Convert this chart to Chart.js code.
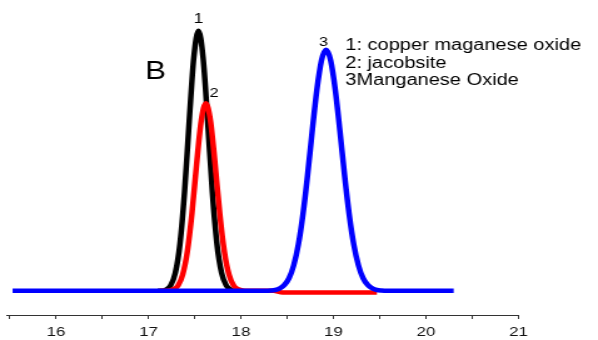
<!DOCTYPE html>
<html>
<head>
<meta charset="utf-8">
<script src="https://cdn.jsdelivr.net/npm/chart.js@4"></script>
<style>
  html, body { margin: 0; padding: 0; background: #fff; overflow: hidden; }
  #wrap { width: 478px; height: 340px; transform: scaleX(1.251); transform-origin: 0 0; }
</style>
</head>
<body>
<div id="wrap"><canvas id="xrdChart"></canvas></div>
<script>
// curve 1: copper maganese oxide (black)
const blackX = [17.1, 17.14, 17.19, 17.24, 17.29, 17.34, 17.39, 17.44, 17.49, 17.54, 17.59, 17.64, 17.69, 17.74, 17.79, 17.84, 17.89, 17.94, 18.0];
const blackY = [0, 0, 0.5, 2.0, 6.6, 17.3, 36.6, 62.5, 86.2, 96, 86.2, 62.5, 36.6, 17.3, 6.6, 2.0, 0.5, 0, 0];

// curve 2: jacobsite (red)
const redX = [17.12, 17.17, 17.22, 17.27, 17.32, 17.37, 17.42, 17.47, 17.52, 17.57, 17.62, 17.67, 17.72, 17.77, 17.82, 17.87, 17.92, 17.97, 18.02, 18.07, 18.35, 18.45, 19.47];
const redY = [0, 0, 0.1, 0.6, 2.0, 6.0, 14.5, 28.7, 46.8, 62.8, 69.3, 62.8, 46.8, 28.7, 14.5, 6.0, 2.0, 0.6, 0.1, 0, 0, -0.6, -0.6];

// curve 3: Manganese Oxide (blue)
const blueX = [15.53, 18.27, 18.32, 18.37, 18.42, 18.47, 18.52, 18.57, 18.62, 18.67, 18.72, 18.77, 18.82, 18.87, 18.92,
               18.97, 19.02, 19.07, 19.12, 19.17, 19.22, 19.27, 19.32, 19.37, 19.42, 19.47, 19.52, 19.57, 20.3];
const blueY = [0, 0, 0.1, 0.3, 0.9, 2.2, 4.7, 9.4, 17.0, 28.2, 42.7, 58.9, 74.1, 85.0, 89,
               85.0, 74.1, 58.9, 42.7, 28.2, 17.0, 9.4, 4.7, 2.2, 0.9, 0.3, 0.1, 0, 0];

const peakLabels = ['1', '2', '3'];
const legendLines = ['1: copper maganese oxide', '2: jacobsite', '3Manganese Oxide'];
const panelLetter = 'B';

function toPoints(xs, ys) {
    return xs.map((x, i) => ({ x: x, y: ys[i] }));
}

const textPlugin = {
    id: 'peakText',
    afterDatasetsDraw(chart) {
        const ctx = chart.ctx;
        const xs = chart.scales.x;
        const ys = chart.scales.y;
        ctx.save();
        ctx.fillStyle = '#000';
        ctx.textBaseline = 'alphabetic';

        // peak numbers sit on top of each peak
        const peaks = [
            { x: 17.54, y: 96, dx: 0, dy: -8, size: 14 },
            { x: 17.62, y: 69.3, dx: 6.5, dy: -6.5, size: 13 },
            { x: 18.92, y: 89, dx: -2, dy: -3.5, size: 13 }
        ];
        ctx.textAlign = 'center';
        peaks.forEach((p, i) => {
            ctx.font = p.size + 'px "Liberation Sans", Arial, sans-serif';
            ctx.fillText(peakLabels[i], xs.getPixelForValue(p.x) + p.dx, ys.getPixelForValue(p.y) + p.dy);
        });

        ctx.textAlign = 'left';
        ctx.font = '25px "Liberation Sans", Arial, sans-serif';
        ctx.fillText(panelLetter, 116, 79);

        ctx.font = '16px "Liberation Sans", Arial, sans-serif';
        legendLines.forEach((t, i) => {
            ctx.fillText(t, 276, 50 + i * 17.5);
        });
        ctx.restore();
    }
};

const ctx = document.getElementById('xrdChart').getContext('2d');
new Chart(ctx, {
    type: 'line',
    data: {
        datasets: [
            { data: toPoints(blackX, blackY), borderColor: '#000000', order: 3 },
            { data: toPoints(redX, redY), borderColor: '#ff0000', order: 2 },
            { data: toPoints(blueX, blueY), borderColor: '#0000ff', order: 1 }
        ]
    },
    options: {
        responsive: true,
        maintainAspectRatio: false,
        animation: false,
        events: [],
        layout: { padding: { left: 5.6, right: 63.6, top: 20, bottom: -5.2 } },
        elements: {
            point: { radius: 0 },
            line: { borderWidth: 4.5, fill: false, cubicInterpolationMode: 'monotone', borderJoinStyle: 'round' }
        },
        plugins: {
            legend: { display: false },
            tooltip: { enabled: false }
        },
        scales: {
            x: {
                type: 'linear',
                min: 15.47,
                max: 21,
                grid: { drawOnChartArea: false, drawTicks: true, tickLength: 4, color: '#333' },
                border: { display: true, color: '#333', width: 1 },
                ticks: {
                    stepSize: 0.5,
                    includeBounds: false,
                    autoSkip: false,
                    maxRotation: 0,
                    padding: 5,
                    color: '#111',
                    font: { family: '"Liberation Sans", Arial, sans-serif', size: 13.5 },
                    callback: v => Number.isInteger(v) ? String(v) : ''
                }
            },
            y: {
                display: false,
                min: -8.92,
                max: 100
            }
        }
    },
    plugins: [textPlugin]
});
</script>
</body>
</html>
